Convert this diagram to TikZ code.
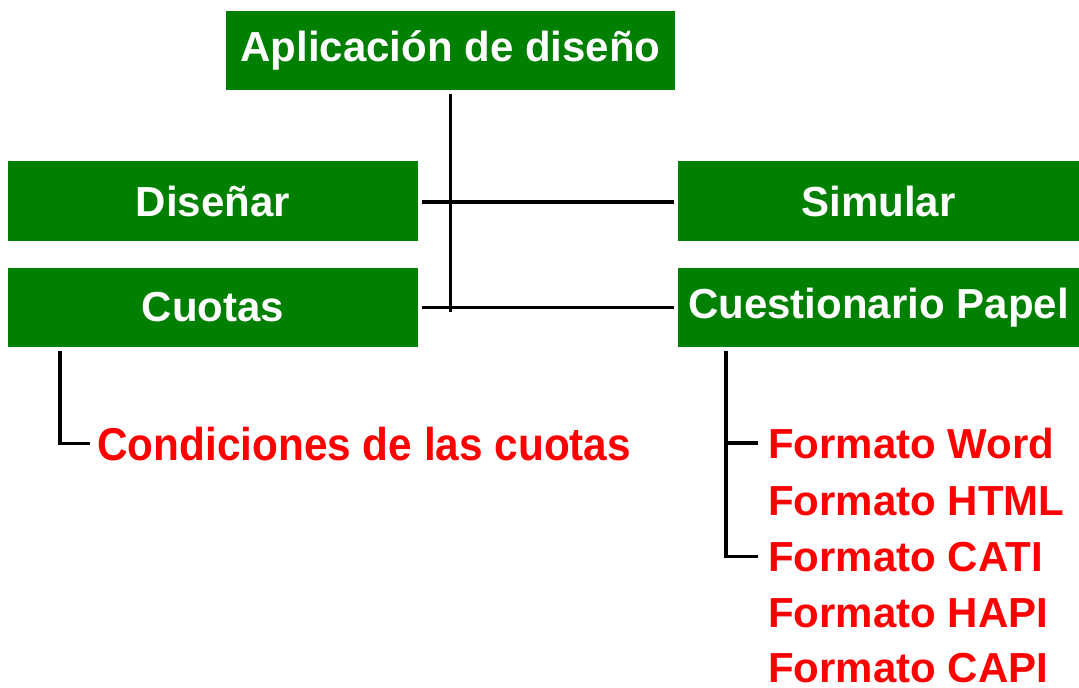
\documentclass[tikz,border=0pt]{standalone}
\usepackage{fontspec}
\setmainfont{Liberation Sans}
\newfontfamily\condfont{Liberation Sans}[FakeStretch=0.92]
\definecolor{boxgreen}{RGB}{0,128,0}
\definecolor{itemred}{RGB}{255,0,0}
\tikzset{
  gbox/.style={rectangle, fill=boxgreen, text=white, inner sep=0pt,
    font=\fontsize{42}{50}\selectfont\bfseries},
  item/.style={inner sep=0pt, text=itemred, anchor=base west,
    font=\fontsize{42}{50}\selectfont\bfseries},
  conn/.style={line width=3.5pt, black}
}
\begin{document}
\begin{tikzpicture}[x=1pt,y=-1pt]
\useasboundingbox (0,0) rectangle (1079,688);
\node[gbox, minimum width=449pt, minimum height=79pt] (top) at (450.5,50.5) {\raisebox{-2pt}{Aplicación de diseño}};
\node[gbox, minimum width=410pt, minimum height=80pt] (dis) at (213,201) {Diseñar};
\node[gbox, minimum width=410pt, minimum height=79pt] (cuo) at (213,307.5) {Cuotas};
\node[gbox, minimum width=401pt, minimum height=80pt] (sim) at (878.5,201) {Simular};
\node[gbox, minimum width=401pt, minimum height=79pt] (cue) at (878.5,307.5) {Cuestionario Papel};

\node[item, font=\fontsize{46}{54}\selectfont\condfont\bfseries] (cond) at (97,460) {Condiciones de las cuotas};

\node[item] (f1) at (768,458) {Formato Word};
\node[item] (f2) at (768,515) {Formato HTML};
\node[item] (f3) at (768,571) {Formato CATI};
\node[item] (f4) at (768,627) {Formato HAPI};
\node[item] (f5) at (768,682) {Formato CAPI};

\draw[conn] ([yshift=-4pt]top.south) -- ([yshift=-4pt]top.south |- cuo.east);
\draw[conn] ([xshift=4pt,yshift=-1pt]dis.east) -- ([xshift=-4pt,yshift=-1pt]sim.west);
\draw[conn] ([xshift=4pt]cuo.east) -- ([xshift=-4pt]cue.west);

\coordinate (lv) at ([xshift=52pt,yshift=-4pt]cuo.south west);
\draw[conn] (lv) |- ([xshift=-7pt]cond.west);

\coordinate (rv) at ([xshift=48pt,yshift=-4pt]cue.south west);
\draw[conn] (rv) |- ([xshift=-10pt]f3.west);
\draw[conn] (rv |- f1.west) -- ([xshift=-10pt]f1.west);
\end{tikzpicture}
\end{document}
